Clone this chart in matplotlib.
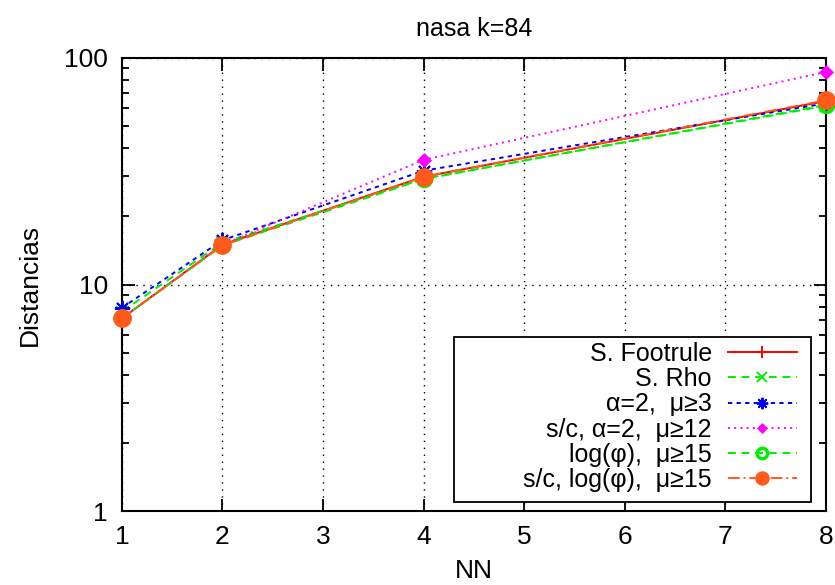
import matplotlib
matplotlib.use("Agg")
import matplotlib.pyplot as plt
from matplotlib.patches import Rectangle
from matplotlib.ticker import FixedLocator, NullFormatter, NullLocator

plt.rcParams['font.family'] = ['Liberation Sans Narrow', 'Liberation Sans', 'DejaVu Sans']

nn = [1, 2, 4, 8]
footrule = [7.1, 15.0, 29.9, 64.5]
rho = [7.6, 15.3, 29.3, 61.5]
alpha2_mu3 = [7.9, 15.7, 31.8, 63.0]
sc_alpha2_mu12 = [7.1, 15.0, 35.5, 86.7]
logphi_mu15 = [7.1, 14.9, 29.2, 62.0]
sc_logphi_mu15 = [7.1, 14.9, 29.9, 65.0]

labels = ["S. Footrule", "S. Rho", "α=2,  μ≥3", "s/c, α=2,  μ≥12",
          "log(φ),  μ≥15", "s/c, log(φ),  μ≥15"]
x_ticks = [1, 2, 3, 4, 5, 6, 7, 8]
y_ticks = [1, 10, 100]

fig = plt.figure(figsize=(8.35, 5.85), dpi=100)
ax = fig.add_axes([0.146, 0.126, 0.843, 0.775])

orange = "#ff5a1a"
series = [
    (footrule, dict(color="red", ls="-", marker="+", ms=11, mew=1.4, lw=1.4)),
    (rho, dict(color="#00ee00", ls=(0, (4, 3)), marker="x", ms=9, mew=1.4, lw=1.4)),
    (alpha2_mu3, dict(color="#0000ee", ls=(0, (2.2, 2.2)), marker=(8, 2, 0), ms=11, mew=1.4, lw=1.4)),
    (sc_alpha2_mu12, dict(color="#ff00ff", ls=(0, (1, 2.2)), marker="D", ms=7, mew=0.5, lw=1.4)),
    (logphi_mu15, dict(color="#00ee00", ls=(0, (4, 3)), marker="o", ms=10, mew=2.5, mfc="none", lw=1.4)),
    (sc_logphi_mu15, dict(color=orange, ls=(0, (6, 2, 1, 2)), marker="o", ms=12.5, mew=1, lw=1.4)),
]
handles = []
for (vals, kw), lab in zip(series, labels):
    h, = ax.plot(nn, vals, label=lab, clip_on=False, zorder=3, **kw)
    handles.append(h)

ax.set_yscale("log")
ax.set_xlim(1, 8)
ax.set_ylim(1, 100)
ax.xaxis.set_major_locator(FixedLocator(x_ticks))
ax.yaxis.set_major_locator(FixedLocator(y_ticks))
ax.set_yticklabels([str(v) for v in y_ticks])
ax.yaxis.set_minor_locator(FixedLocator([m * d for d in (1, 10) for m in range(2, 10)]))
ax.yaxis.set_minor_formatter(NullFormatter())
ax.xaxis.set_minor_locator(NullLocator())

ax.tick_params(which="both", direction="in", top=True, right=True, width=1.3,
               labelsize=19, pad=10)
ax.tick_params(which="major", length=9)
ax.tick_params(which="minor", length=5)
for s in ax.spines.values():
    s.set_linewidth(1.5)

ax.grid(True, which="major", color="black", ls=(0, (1, 4)), lw=1.0)

ax.set_title("nasa k=84", fontsize=18, pad=16)
ax.set_xlabel("NN", fontsize=19, labelpad=7)
ax.set_ylabel("Distancias", fontsize=19, labelpad=16)

# key box: opaque white panel with black border, entries drawn on top
key_box = Rectangle((0.472, 0.02), 0.507, 0.364, transform=ax.transAxes,
                    facecolor="white", edgecolor="black", lw=1.3, zorder=4)
ax.add_patch(key_box)

leg = ax.legend(handles=handles, loc="lower right", bbox_to_anchor=(0.959, 0.042),
                fontsize=18, frameon=False, markerfirst=False,
                handlelength=2.76, labelspacing=0.05, borderpad=0.0,
                handletextpad=0.64, borderaxespad=0, markerscale=0.75)
for t in leg.get_texts():
    t.set_ha("right")
leg.set_zorder(5)

fig.savefig("out.png", dpi=100)
